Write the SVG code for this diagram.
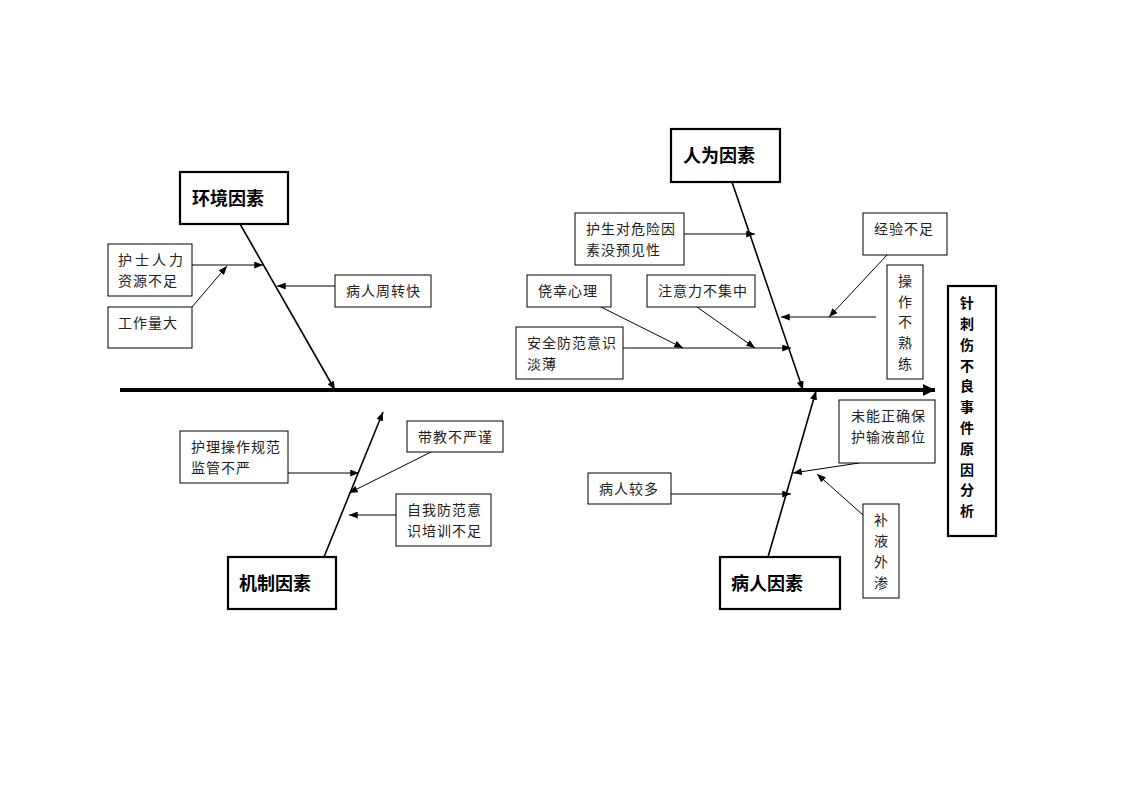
<svg xmlns="http://www.w3.org/2000/svg" width="1122" height="793" viewBox="0 0 1122 793">
<style>
.box{fill:#fff;stroke:#000;stroke-width:1}
.hbox{fill:#fff;stroke:#000;stroke-width:2.2}
.t{font-family:"Noto Sans CJK SC","Noto Sans CJK JP",sans-serif;font-size:14px;fill:#222;letter-spacing:1px}
.h{font-family:"Noto Sans CJK SC","Noto Sans CJK JP",sans-serif;font-size:18px;font-weight:bold;fill:#000}
.v{font-family:"Noto Sans CJK SC","Noto Sans CJK JP",sans-serif;font-size:14px;fill:#222;text-anchor:middle}
.vt{font-family:"Noto Sans CJK SC","Noto Sans CJK JP",sans-serif;font-size:14px;font-weight:bold;fill:#000;text-anchor:middle}
.c{stroke:#000;stroke-width:1;fill:none;marker-end:url(#a)}
.b{stroke:#000;stroke-width:1.6;fill:none;marker-end:url(#a)}
</style>
<defs>
<marker id="a" viewBox="0 0 10 8" refX="10" refY="4" markerWidth="9" markerHeight="7" markerUnits="userSpaceOnUse" orient="auto"><path d="M0,0 L10,4 L0,8 Z" fill="#000"/></marker>
<marker id="m" viewBox="0 0 10 10" refX="10" refY="5" markerWidth="14" markerHeight="12" markerUnits="userSpaceOnUse" orient="auto"><path d="M0,0 L10,5 L0,10 Z" fill="#000"/></marker>
</defs>
<rect width="1122" height="793" fill="#fff"/>
<g id="connectors">
<line x1="120" y1="390" x2="935" y2="390" stroke="#000" stroke-width="4" marker-end="url(#m)"/>
<line class="b" x1="240" y1="224" x2="335" y2="390"/>
<line class="c" x1="192" y1="265" x2="263" y2="265"/>
<line class="c" x1="192" y1="307" x2="227" y2="266"/>
<line class="c" x1="335" y1="286" x2="277" y2="286"/>
<line class="b" x1="732" y1="182" x2="803" y2="390"/>
<line class="c" x1="684" y1="234" x2="755" y2="234"/>
<line class="c" x1="887" y1="255" x2="829" y2="317"/>
<line class="c" x1="876" y1="317" x2="781" y2="317"/>
<line class="c" x1="601" y1="307" x2="683" y2="348"/>
<line class="c" x1="697" y1="307" x2="755" y2="348"/>
<line class="c" x1="623" y1="348" x2="791" y2="348"/>
<line class="b" x1="324" y1="557" x2="383" y2="412"/>
<line class="c" x1="288" y1="473" x2="359" y2="473"/>
<line class="c" x1="431" y1="452" x2="349" y2="493"/>
<line class="c" x1="396" y1="515" x2="349" y2="515"/>
<line class="b" x1="768" y1="557" x2="816" y2="391"/>
<line class="c" x1="859" y1="463" x2="793" y2="473"/>
<line class="c" x1="671" y1="494" x2="791" y2="494"/>
<line class="c" x1="863" y1="515" x2="817" y2="474"/>
</g>
<g id="title"><rect class="hbox" x="948" y="286" width="48" height="250"/>
<text class="vt"><tspan x="967" y="308">针</tspan><tspan x="967" y="329">刺</tspan><tspan x="967" y="350">伤</tspan><tspan x="967" y="371">不</tspan><tspan x="967" y="391">良</tspan><tspan x="967" y="412">事</tspan><tspan x="967" y="433">件</tspan><tspan x="967" y="454">原</tspan><tspan x="967" y="475">因</tspan><tspan x="967" y="495">分</tspan><tspan x="967" y="516">析</tspan></text></g>
<g id="env"><rect class="hbox" x="180" y="172" width="108" height="52"/><text class="h" x="192" y="205">环境因素</text></g>
<g id="env1"><rect class="box" x="108" y="244" width="84" height="52"/><text class="t" x="118" y="265" style="letter-spacing:3px">护士人力</text><text class="t" x="118" y="286">资源不足</text></g>
<g id="env2"><rect class="box" x="108" y="307" width="84" height="41"/><text class="t" x="118" y="328">工作量大</text></g>
<g id="env3"><rect class="box" x="335" y="275" width="96" height="32"/><text class="t" x="346" y="296">病人周转快</text></g>
<g id="human"><rect class="hbox" x="671" y="129" width="109" height="53"/><text class="h" x="683" y="162">人为因素</text></g>
<g id="hum1"><rect class="box" x="575" y="213" width="109" height="52"/><text class="t" x="586" y="234">护生对危险因</text><text class="t" x="586" y="255">素没预见性</text></g>
<g id="hum2"><rect class="box" x="863" y="213" width="84" height="42"/><text class="t" x="874" y="234">经验不足</text></g>
<g id="hum3"><rect class="box" x="887" y="265" width="36" height="114"/><text class="v"><tspan x="905" y="286">操</tspan><tspan x="905" y="307">作</tspan><tspan x="905" y="327">不</tspan><tspan x="905" y="348">熟</tspan><tspan x="905" y="369">练</tspan></text></g>
<g id="hum4"><rect class="box" x="527" y="275" width="84" height="32"/><text class="t" x="538" y="296">侥幸心理</text></g>
<g id="hum5"><rect class="box" x="647" y="275" width="108" height="32"/><text class="t" x="658" y="296">注意力不集中</text></g>
<g id="hum6"><rect class="box" x="516" y="327" width="107" height="52"/><text class="t" x="527" y="348">安全防范意识</text><text class="t" x="527" y="369">淡薄</text></g>
<g id="mech"><rect class="hbox" x="228" y="557" width="108" height="52"/><text class="h" x="239" y="590">机制因素</text></g>
<g id="mech1"><rect class="box" x="180" y="431" width="108" height="52"/><text class="t" x="191" y="452">护理操作规范</text><text class="t" x="191" y="473">监管不严</text></g>
<g id="mech2"><rect class="box" x="407" y="421" width="96" height="31"/><text class="t" x="418" y="442">带教不严谨</text></g>
<g id="mech3"><rect class="box" x="396" y="494" width="95" height="52"/><text class="t" x="407" y="515">自我防范意</text><text class="t" x="407" y="536">识培训不足</text></g>
<g id="pat"><rect class="hbox" x="720" y="557" width="120" height="52"/><text class="h" x="731" y="590">病人因素</text></g>
<g id="pat1"><rect class="box" x="839" y="400" width="96" height="63"/><text class="t" x="851" y="421">未能正确保</text><text class="t" x="851" y="442">护输液部位</text></g>
<g id="pat2"><rect class="box" x="588" y="473" width="83" height="31"/><text class="t" x="599" y="494">病人较多</text></g>
<g id="pat3"><rect class="box" x="863" y="504" width="36" height="94"/><text class="v"><tspan x="881" y="525">补</tspan><tspan x="881" y="546">液</tspan><tspan x="881" y="567">外</tspan><tspan x="881" y="588">渗</tspan></text></g>
</svg>
